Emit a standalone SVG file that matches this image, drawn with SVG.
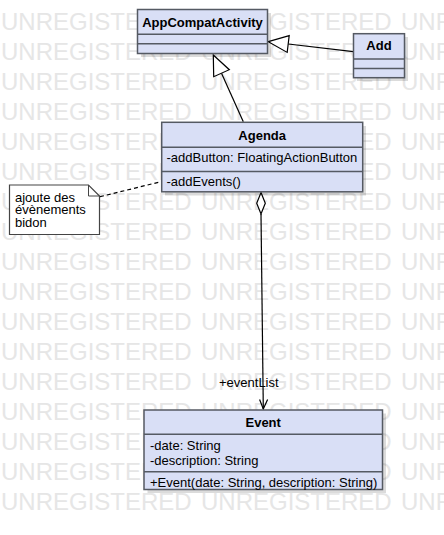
<svg xmlns="http://www.w3.org/2000/svg" width="444" height="535" viewBox="0 0 444 535">
<style>
.wm{font-family:"Liberation Sans",Arial,sans-serif;font-size:24px;fill:#e6e6e6}
.box{fill:#d9dff6;stroke:#555a63;stroke-width:1.5}
.sh{fill:#000;opacity:0.14}
.div{stroke:#555a63;stroke-width:1.5}
.t{font-family:"Liberation Sans",Arial,sans-serif;font-size:13px;fill:#000}
.b{font-weight:bold;text-anchor:middle}
.ln{fill:none;stroke:#000;stroke-width:1.2}
</style>
<rect width="444" height="535" fill="#fff"/>
<g id="watermark" class="wm">
<text x="1" y="30">UNREGISTERED</text><text x="201" y="30">UNREGISTERED</text><text x="401" y="30">UNREGISTERED</text>
<text x="1" y="60">UNREGISTERED</text><text x="201" y="60">UNREGISTERED</text><text x="401" y="60">UNREGISTERED</text>
<text x="1" y="90">UNREGISTERED</text><text x="201" y="90">UNREGISTERED</text><text x="401" y="90">UNREGISTERED</text>
<text x="1" y="120">UNREGISTERED</text><text x="201" y="120">UNREGISTERED</text><text x="401" y="120">UNREGISTERED</text>
<text x="1" y="150">UNREGISTERED</text><text x="201" y="150">UNREGISTERED</text><text x="401" y="150">UNREGISTERED</text>
<text x="1" y="180">UNREGISTERED</text><text x="201" y="180">UNREGISTERED</text><text x="401" y="180">UNREGISTERED</text>
<text x="1" y="210">UNREGISTERED</text><text x="201" y="210">UNREGISTERED</text><text x="401" y="210">UNREGISTERED</text>
<text x="1" y="240">UNREGISTERED</text><text x="201" y="240">UNREGISTERED</text><text x="401" y="240">UNREGISTERED</text>
<text x="1" y="270">UNREGISTERED</text><text x="201" y="270">UNREGISTERED</text><text x="401" y="270">UNREGISTERED</text>
<text x="1" y="300">UNREGISTERED</text><text x="201" y="300">UNREGISTERED</text><text x="401" y="300">UNREGISTERED</text>
<text x="1" y="330">UNREGISTERED</text><text x="201" y="330">UNREGISTERED</text><text x="401" y="330">UNREGISTERED</text>
<text x="1" y="360">UNREGISTERED</text><text x="201" y="360">UNREGISTERED</text><text x="401" y="360">UNREGISTERED</text>
<text x="1" y="390">UNREGISTERED</text><text x="201" y="390">UNREGISTERED</text><text x="401" y="390">UNREGISTERED</text>
<text x="1" y="420">UNREGISTERED</text><text x="201" y="420">UNREGISTERED</text><text x="401" y="420">UNREGISTERED</text>
<text x="1" y="450">UNREGISTERED</text><text x="201" y="450">UNREGISTERED</text><text x="401" y="450">UNREGISTERED</text>
<text x="1" y="480">UNREGISTERED</text><text x="201" y="480">UNREGISTERED</text><text x="401" y="480">UNREGISTERED</text>
<text x="1" y="510">UNREGISTERED</text><text x="201" y="510">UNREGISTERED</text><text x="401" y="510">UNREGISTERED</text>
</g>
<g id="connectors">
<line class="ln" x1="353.3" y1="51.7" x2="288.2" y2="44"/>
<polygon points="268.3,41.7 289.2,35.6 287.2,52.4" fill="#fff" stroke="#000" stroke-width="1.2"/>
<line class="ln" x1="243.3" y1="121.7" x2="221.5" y2="73.2"/>
<polygon points="213.3,55 229.3,69.7 213.7,76.7" fill="#fff" stroke="#000" stroke-width="1.2"/>
<line class="ln" x1="100" y1="196.7" x2="161.7" y2="181.5" stroke-dasharray="4,3"/>
<polygon points="261,192.5 265.3,203.3 261,214 256.7,203.3" fill="#fff" stroke="#000" stroke-width="1.2"/>
<line class="ln" x1="261" y1="214" x2="263.3" y2="409"/>
<polyline class="ln" points="259.6,399.5 263.3,409 267.6,399.5"/>
<text class="t" x="219" y="387">+eventList</text>
</g>
<g id="AppCompatActivity">
<rect class="sh" x="141" y="13" width="130" height="44"/>
<rect class="box" x="137.5" y="9.5" width="130" height="44"/>
<line class="div" x1="137.5" y1="34.3" x2="267.5" y2="34.3"/>
<line class="div" x1="137.5" y1="43.7" x2="267.5" y2="43.7"/>
<text class="t b" x="202.5" y="27">AppCompatActivity</text>
</g>
<g id="Add">
<rect class="sh" x="357" y="37" width="51" height="44"/>
<rect class="box" x="353.5" y="33.7" width="51" height="44"/>
<line class="div" x1="353.5" y1="59" x2="404.5" y2="59"/>
<line class="div" x1="353.5" y1="68.5" x2="404.5" y2="68.5"/>
<text class="t b" x="379" y="50.3">Add</text>
</g>
<g id="Agenda">
<rect class="sh" x="165" y="126" width="201" height="69.5"/>
<rect class="box" x="161.7" y="122.3" width="201" height="69.5"/>
<line class="div" x1="161.7" y1="147.3" x2="362.7" y2="147.3"/>
<line class="div" x1="161.7" y1="171.5" x2="362.7" y2="171.5"/>
<text class="t b" x="262.2" y="139.5">Agenda</text>
<text class="t" x="166.5" y="161.5">-addButton: FloatingActionButton</text>
<text class="t" x="166.5" y="185.5">-addEvents()</text>
</g>
<g id="Note">
<path d="M9.5,185 H88.5 L99.5,196 V234.5 H9.5 Z" fill="#fff" stroke="#444" stroke-width="1.2"/>
<path d="M88.5,185 V196 H99.5" fill="none" stroke="#444" stroke-width="1"/>
<text class="t" x="15" y="201.5">ajoute des</text>
<text class="t" x="15" y="214.3">évènements</text>
<text class="t" x="15" y="227">bidon</text>
</g>
<g id="Event">
<rect class="sh" x="147.5" y="413.5" width="238.5" height="79.5"/>
<rect class="box" x="144" y="410" width="238.5" height="79.5"/>
<line class="div" x1="144" y1="434.3" x2="382.5" y2="434.3"/>
<line class="div" x1="144" y1="471.7" x2="382.5" y2="471.7"/>
<text class="t b" x="263.2" y="427">Event</text>
<text class="t" x="150" y="449.5">-date: String</text>
<text class="t" x="150" y="464.5">-description: String</text>
<text class="t" x="150" y="487">+Event(date: String, description: String)</text>
</g>
</svg>
